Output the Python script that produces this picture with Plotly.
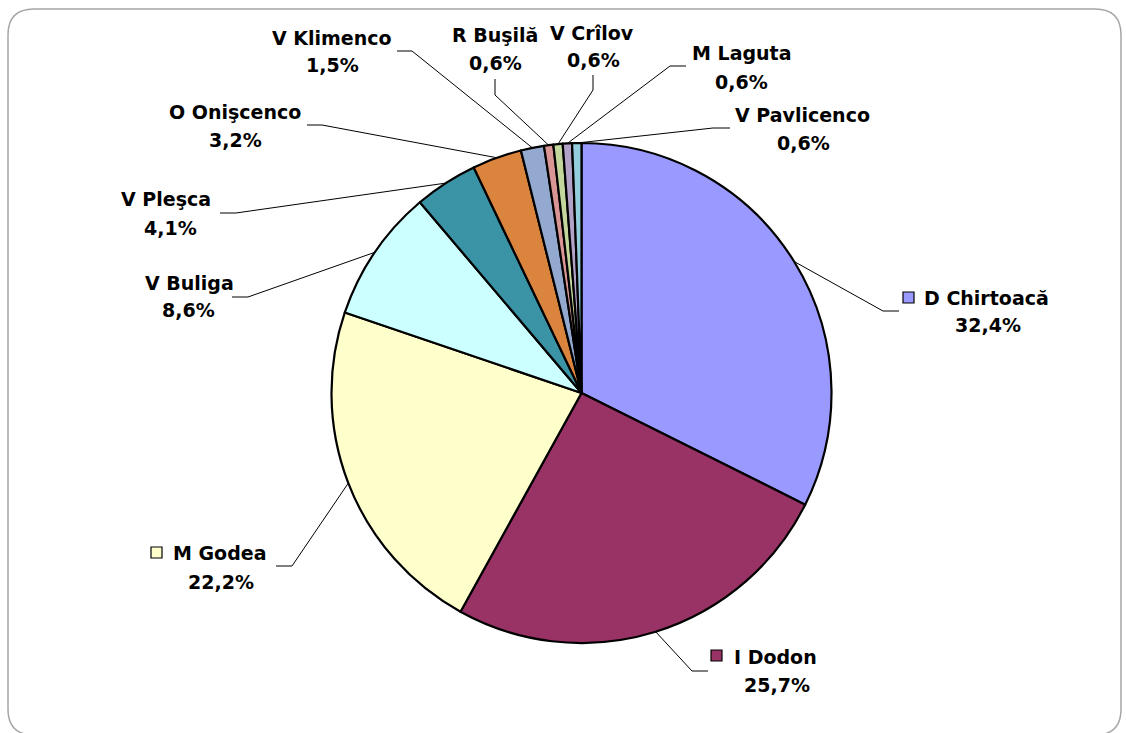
import math
import plotly.graph_objects as go

W, H = 1126, 733

# ---- data ----
names = ["D Chirtoacă", "I Dodon", "M Godea", "V Buliga", "V Pleşca", "O Onişcenco",
         "V Klimenco", "R Buşilă", "V Crîlov", "M Laguta", "V Pavlicenco"]
values = [32.4, 25.7, 22.2, 8.6, 4.1, 3.2, 1.5, 0.6, 0.6, 0.6, 0.6]
pct_labels = ["32,4%", "25,7%", "22,2%", "8,6%", "4,1%", "3,2%", "1,5%", "0,6%", "0,6%", "0,6%", "0,6%"]
colors = ["#9999FF", "#993366", "#FFFFCC", "#CCFFFF", "#3B94A6", "#DB843D",
          "#93A9CF", "#D99694", "#C3D69B", "#B3A2C7", "#93CDDD"]
with_key = [True, True, True, False, False, False, False, False, False, False, False]

# ---- layout (pixel positions) ----
cx, cy, R = 581.5, 393, 250
name_pos = [(986, 298), (775, 657), (219, 553), (190, 283), (166, 199), (235, 112),
            (332, 38), (495, 35), (592, 33), (741, 53), (802, 115)]
pct_pos = [(988, 325), (777, 685), (221, 582), (188, 310), (170, 228), (235, 140),
           (333, 65), (495, 63), (593, 60), (741, 82), (803, 143)]
elbows = [(883, 311), (692, 671), (292, 566), (248, 297), (236, 213), (322, 125),
          (412, 51), (495, 95), (593, 90), (670, 66), (713, 128)]
ends = [(899, 311), (708, 671), (276, 566), (232, 297), (220, 213), (307, 125),
        (397, 51), (495, 79), (593, 75), (686, 66), (730, 128)]
key_pos = [(903, 292), (711, 650), (151, 547)]
key_size = 11


def px(x):
    return x / W


def py(y):
    return 1 - y / H


fig = go.Figure()
fig.add_trace(go.Pie(
    labels=names, values=values, sort=False, direction="clockwise", rotation=0,
    marker=dict(colors=colors, line=dict(color="black", width=2.2)),
    textinfo="none", hoverinfo="label+percent", showlegend=False,
    domain=dict(x=[px(cx - R), px(cx + R)], y=[py(cy + R), py(cy - R)]),
))

shapes = []
annotations = []
font = dict(family="DejaVu Sans", size=19, color="black")

total = sum(values)
cum = 0.0
for i, v in enumerate(values):
    mid = (cum + v / 2) / total * 2 * math.pi
    cum += v
    sx = cx + R * math.sin(mid)
    sy = cy - R * math.cos(mid)
    ex, ey = elbows[i]
    fx, fy = ends[i]
    shapes.append(dict(
        type="path", xref="paper", yref="paper",
        path=f"M {px(sx)},{py(sy)} L {px(ex)},{py(ey)} L {px(fx)},{py(fy)}",
        line=dict(color="black", width=1), layer="above"))
    nx, ny = name_pos[i]
    qx, qy = pct_pos[i]
    annotations.append(dict(x=px(nx), y=py(ny), xref="paper", yref="paper",
                             text=f"<b>{names[i]}</b>", showarrow=False,
                             xanchor="center", yanchor="middle", font=font))
    annotations.append(dict(x=px(qx), y=py(qy), xref="paper", yref="paper",
                             text=f"<b>{pct_labels[i]}</b>", showarrow=False,
                             xanchor="center", yanchor="middle", font=font))

k = 0
for i in range(len(names)):
    if with_key[i]:
        kx, ky = key_pos[k]
        k += 1
        shapes.append(dict(type="rect", xref="paper", yref="paper",
                           x0=px(kx), x1=px(kx + key_size), y0=py(ky + key_size), y1=py(ky),
                           fillcolor=colors[i], line=dict(color="black", width=1.2)))

# rounded chart border
bx0, bx1, by0, by1, r = 8, 1121, 9, 735, 26
rx, ry = r / W, r / H
X0, X1, Yt, Yb = px(bx0), px(bx1), py(by0), py(by1)
border = (f"M {X0+rx},{Yt} L {X1-rx},{Yt} Q {X1},{Yt} {X1},{Yt-ry} "
          f"L {X1},{Yb+ry} Q {X1},{Yb} {X1-rx},{Yb} L {X0+rx},{Yb} "
          f"Q {X0},{Yb} {X0},{Yb+ry} L {X0},{Yt-ry} Q {X0},{Yt} {X0+rx},{Yt} Z")
shapes.append(dict(type="path", xref="paper", yref="paper", path=border,
                   line=dict(color="#A6A6A6", width=1.5), layer="below"))

fig.update_layout(
    width=W, height=H, margin=dict(l=0, r=0, t=0, b=0),
    paper_bgcolor="white", plot_bgcolor="white",
    shapes=shapes, annotations=annotations, showlegend=False,
)

fig.write_html("out.html", config={"displayModeBar": False},
               post_script="document.body.style.margin='0';document.body.style.overflow='hidden';")
